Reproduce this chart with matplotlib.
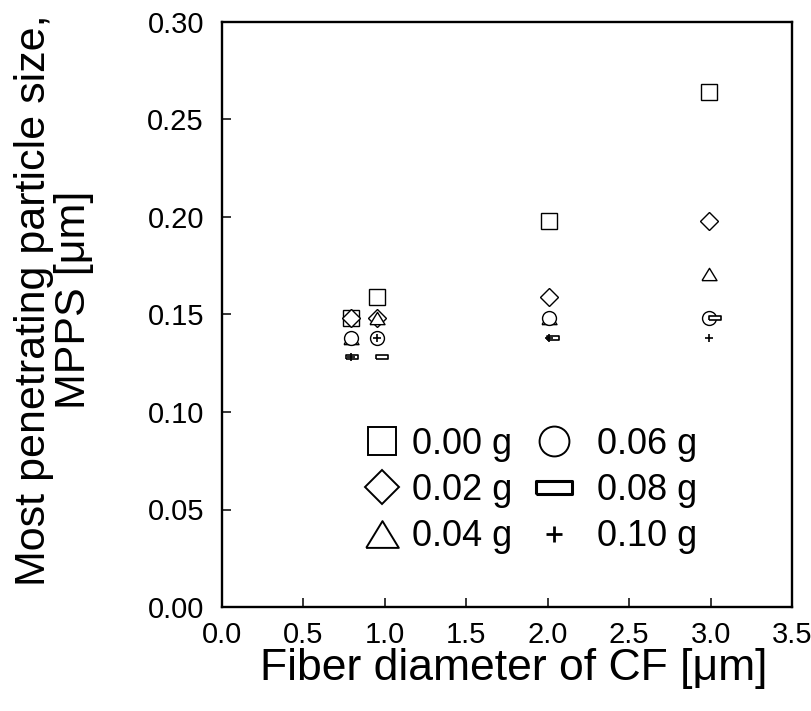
import matplotlib
matplotlib.use("Agg")
import matplotlib.pyplot as plt
from matplotlib.lines import Line2D

plt.rcParams['font.family'] = ['Liberation Sans', 'DejaVu Sans']

# Fiber diameter of CF [um] and MPPS [um] for each loading mass
labels = ["0.00 g", "0.02 g", "0.04 g", "0.06 g", "0.08 g", "0.10 g"]
x_000 = [0.79, 0.95, 2.01, 2.99]
y_000 = [0.148, 0.159, 0.198, 0.264]
x_002 = [0.79, 0.95, 2.01, 2.99]
y_002 = [0.148, 0.148, 0.159, 0.198]
x_004 = [0.79, 0.95, 2.01, 2.99]
y_004 = [0.138, 0.148, 0.148, 0.171]
x_006 = [0.79, 0.95, 2.01, 2.99]
y_006 = [0.138, 0.138, 0.148, 0.148]
x_008 = [0.80, 0.98, 2.03, 3.03]
y_008 = [0.128, 0.128, 0.138, 0.148]
x_010 = [0.79, 0.95, 2.01, 2.99]
y_010 = [0.128, 0.138, 0.138, 0.138]

xticks = [0.0, 0.5, 1.0, 1.5, 2.0, 2.5, 3.0, 3.5]
yticks = [0.00, 0.05, 0.10, 0.15, 0.20, 0.25, 0.30]

# custom marker shapes
tri = [(-1, -0.82), (1, -0.82), (0, 0.82), (-1, -0.82)]
bar = [(-1, -0.36), (1, -0.36), (1, 0.36), (-1, 0.36), (-1, -0.36)]

series = [
    (x_000, y_000, dict(marker="s", ms=12.2, mew=1.0)),
    (x_002, y_002, dict(marker="D", ms=9.6, mew=1.0)),
    (x_004, y_004, dict(marker=tri, ms=10.8, mew=1.0)),
    (x_006, y_006, dict(marker="o", ms=10.0, mew=1.0)),
    (x_008, y_008, dict(marker=bar, ms=8.0, mew=1.2)),
    (x_010, y_010, dict(marker="+", ms=5.5, mew=1.2)),
]
legend_styles = [
    dict(marker="s", ms=19.5, mew=1.4),
    dict(marker="D", ms=17.5, mew=1.4),
    dict(marker=tri, ms=23.5, mew=1.4),
    dict(marker="o", ms=21.5, mew=1.4),
    dict(marker=bar, ms=26.0, mew=2.2),
    dict(marker="+", ms=12.0, mew=2.0),
]

fig = plt.figure(figsize=(8.12, 7.11), dpi=100)
ax = fig.add_axes([222 / 812, 104 / 711, 570 / 812, 585 / 711])

for (xs, ys, st), lab in zip(series, labels):
    ax.plot(xs, ys, linestyle="none", color="black", mfc="white",
            mec="black", label=lab, **st)

ax.set_xlim(0, 3.5)
ax.set_ylim(0, 0.30)
ax.set_xticks(xticks)
ax.set_yticks(yticks)
ax.set_xticklabels([f"{v:.1f}" for v in xticks])
ax.set_yticklabels([f"{v:.2f}" for v in yticks])
ax.tick_params(direction="in", length=6.5, width=1.1, labelsize=21,
               colors="black")
ax.tick_params(axis="x", pad=10)
ax.tick_params(axis="y", pad=13)
for sp in ax.spines.values():
    sp.set_linewidth(1.7)

ax.set_xlabel("Fiber diameter of CF [μm]", fontsize=32, va="center")
ax.xaxis.set_label_coords(0.512, -0.105)
ax.set_ylabel("Most penetrating particle size,\nMPPS [μm]", fontsize=31,
              va="center", linespacing=1.0)
ax.yaxis.set_label_coords(-0.295, 0.525)

# two-column key, each column its own legend
def make_handles(idx):
    return [Line2D([], [], linestyle="none", color="black", mfc="white",
                   mec="black", **legend_styles[i]) for i in idx]

common = dict(frameon=False, fontsize=26, loc="upper left", borderpad=0,
              borderaxespad=0, handlelength=1.0, labelspacing=0.31)
leg1 = ax.legend(make_handles([0, 1, 2]), labels[0:3],
                 bbox_to_anchor=(0.249, 0.308), handletextpad=0.33, **common)
ax.add_artist(leg1)
leg2 = ax.legend(make_handles([3, 4, 5]), labels[3:6],
                 bbox_to_anchor=(0.551, 0.308), handletextpad=0.69, **common)

fig.savefig("out.png", dpi=100)
